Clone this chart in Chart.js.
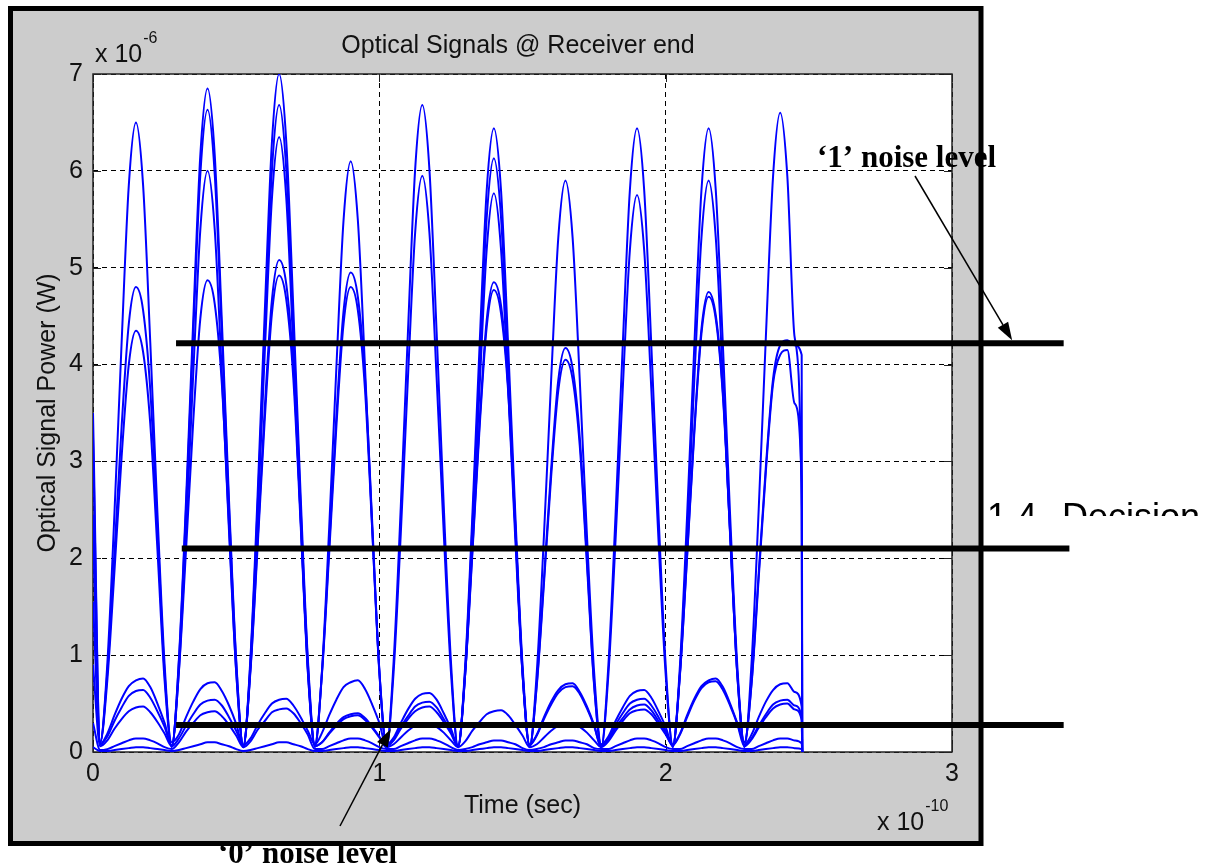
<!DOCTYPE html>
<html>
<head>
<meta charset="utf-8">
<title>Optical Signals @ Receiver end</title>
<script src="https://cdn.jsdelivr.net/npm/chart.js@4.4.1/dist/chart.umd.min.js"></script>
<style>
  html, body { margin: 0; padding: 0; background: #fff; }
  #wrap { position: relative; width: 1212px; height: 866px; }
</style>
</head>
<body>
<div id="wrap"><canvas id="rxChart" width="1212" height="866"></canvas></div>
<script>
// time in units of 1e-10 s, power in units of 1e-6 W (as on the axes)
const timeGrid = [0,
  0.025,0.05,0.075,0.1,0.125,0.15,0.175,0.2,0.225,0.25,
  0.275,0.3,0.325,0.35,0.375,0.4,0.425,0.45,0.475,0.5,
  0.525,0.55,0.575,0.6,0.625,0.65,0.675,0.7,0.725,0.75,
  0.775,0.8,0.825,0.85,0.875,0.9,0.925,0.95,0.975,1.0,
  1.025,1.05,1.075,1.1,1.125,1.15,1.175,1.2,1.225,1.25,
  1.275,1.3,1.325,1.35,1.375,1.4,1.425,1.45,1.475,1.5,
  1.525,1.55,1.575,1.6,1.625,1.65,1.675,1.7,1.725,1.75,
  1.775,1.8,1.825,1.85,1.875,1.9,1.925,1.95,1.975,2.0,
  2.025,2.05,2.075,2.1,2.125,2.15,2.175,2.2,2.225,2.25,
  2.275,2.3,2.325,2.35,2.375,2.4,2.425,2.45,2.475,
  2.477];

const rxTrace1 = [3.5,
  0.1,0.91,2.47,4.23,5.85,6.5,5.85,4.23,2.47,0.91,
  0.05,0.96,2.6,4.45,6.17,6.85,6.17,4.45,2.6,0.96,
  0.05,0.98,2.66,4.55,6.3,7.0,6.3,4.55,2.66,0.98,
  0.08,0.2,0.38,0.54,0.67,0.72,0.74,0.65,0.49,0.3,
  0.05,0.94,2.54,4.34,6.01,6.68,6.01,4.34,2.54,0.94,
  0.05,0.9,2.45,4.19,5.8,6.44,5.8,4.19,2.45,0.9,
  0.08,0.18,0.36,0.52,0.64,0.7,0.71,0.62,0.47,0.28,
  0.05,0.9,2.45,4.19,5.8,6.44,5.8,4.19,2.45,0.9,
  0.05,0.9,2.45,4.19,5.8,6.44,5.8,4.19,2.45,0.9,
  0.05,0.92,2.51,4.29,5.94,6.6,5.94,4.29,2.51,
  0];

const rxTrace2 = [2.45,
  0.1,0.82,2.06,3.36,4.42,4.8,4.56,3.74,2.3,0.82,
  0.1,0.18,0.36,0.52,0.65,0.71,0.72,0.63,0.48,0.29,
  0.06,0.94,2.54,4.34,6.01,6.68,6.01,4.34,2.54,0.94,
  0.05,0.85,2.32,3.97,5.49,6.1,5.49,3.97,2.32,0.85,
  0.08,0.15,0.3,0.44,0.55,0.6,0.61,0.54,0.4,0.24,
  0.06,0.86,2.33,3.98,5.52,6.13,5.52,3.98,2.33,0.86,
  0.05,0.83,2.24,3.84,5.31,5.9,5.31,3.84,2.24,0.83,
  0.08,0.16,0.32,0.46,0.58,0.63,0.64,0.56,0.42,0.26,
  0.06,0.83,2.24,3.84,5.31,5.9,5.31,3.84,2.24,0.83,
  0.08,0.18,0.36,0.52,0.64,0.7,0.71,0.62,0.47,
  0];

const rxTrace3 = [3.25,
  0.1,0.74,1.87,3.05,4.0,4.35,4.13,3.39,2.09,0.74,
  0.06,0.93,2.52,4.31,5.97,6.63,5.97,4.31,2.52,0.93,
  0.05,0.89,2.41,4.13,5.72,6.35,5.72,4.13,2.41,0.89,
  0.06,0.1,0.2,0.29,0.36,0.39,0.4,0.35,0.26,0.16,
  0.05,0.83,2.26,3.87,5.36,5.95,5.36,3.87,2.26,0.83,
  0.05,0.81,2.19,3.75,5.19,5.77,5.19,3.75,2.19,0.81,
  0.07,0.17,0.34,0.49,0.61,0.67,0.68,0.6,0.45,0.27,
  0.05,0.8,2.19,3.74,5.18,5.75,5.18,3.74,2.19,0.8,
  0.08,0.19,0.38,0.55,0.68,0.74,0.76,0.67,0.5,0.3,
  0.1,0.72,1.85,2.95,3.85,4.2,4.25,4.2,4.1,
  0];

const rxTrace4 = [2.35,
  0.08,0.19,0.38,0.55,0.68,0.74,0.76,0.67,0.5,0.3,
  0.06,0.84,2.28,3.9,5.4,6.0,5.4,3.9,2.28,0.84,
  0.07,0.14,0.28,0.4,0.5,0.54,0.55,0.48,0.36,0.22,
  0.08,0.84,2.13,3.47,4.55,4.95,4.7,3.86,2.38,0.84,
  0.07,0.13,0.26,0.37,0.47,0.51,0.52,0.46,0.34,0.21,
  0.07,0.82,2.09,3.4,4.46,4.85,4.61,3.78,2.33,0.82,
  0.06,0.71,1.79,2.92,3.84,4.17,3.96,3.25,2.0,0.71,
  0.07,0.14,0.28,0.4,0.5,0.54,0.55,0.48,0.36,0.22,
  0.07,0.81,2.04,3.33,4.37,4.75,4.51,3.71,2.28,0.81,
  0.1,0.7,1.8,2.9,3.8,4.1,4.15,3.6,2.78,
  0];

const rxTrace5 = [1.55,
  0.08,0.16,0.32,0.46,0.58,0.63,0.64,0.56,0.42,0.26,
  0.07,0.83,2.09,3.41,4.48,4.87,4.63,3.8,2.34,0.83,
  0.07,0.86,2.18,3.56,4.67,5.08,4.83,3.96,2.44,0.86,
  0.07,0.82,2.06,3.36,4.42,4.8,4.56,3.74,2.3,0.82,
  0.06,0.12,0.24,0.34,0.42,0.46,0.47,0.41,0.31,0.19,
  0.06,0.81,2.05,3.34,4.39,4.77,4.53,3.72,2.29,0.81,
  0.06,0.69,1.74,2.84,3.73,4.05,3.85,3.16,1.94,0.69,
  0.06,0.12,0.25,0.35,0.44,0.48,0.49,0.43,0.32,0.2,
  0.06,0.8,2.02,3.29,4.32,4.7,4.47,3.67,2.26,0.8,
  0.07,0.14,0.27,0.39,0.49,0.53,0.54,0.48,0.36,
  0];

const rxTrace6 = [0.9,
  0.06,0.12,0.24,0.34,0.42,0.46,0.47,0.41,0.31,0.19,
  0.06,0.14,0.27,0.39,0.49,0.53,0.54,0.48,0.36,0.22,
  0.07,0.84,2.12,3.44,4.53,4.92,4.67,3.84,2.36,0.84,
  0.06,0.1,0.19,0.27,0.34,0.37,0.38,0.33,0.25,0.15,
  0.05,0.08,0.15,0.22,0.27,0.29,0.3,0.26,0.2,0.12,
  0.05,0.11,0.22,0.31,0.39,0.42,0.43,0.38,0.28,0.17,
  0.05,0.08,0.15,0.22,0.27,0.29,0.3,0.26,0.2,0.12,
  0.05,0.11,0.22,0.32,0.4,0.43,0.44,0.39,0.29,0.18,
  0.07,0.18,0.36,0.53,0.66,0.72,0.73,0.64,0.48,0.29,
  0.06,0.13,0.25,0.36,0.45,0.49,0.5,0.44,0.33,
  0];

const rxTrace7 = [0.3,
  0.02,0.03,0.06,0.09,0.12,0.14,0.14,0.12,0.09,0.05,
  0.03,0.1,0.21,0.3,0.38,0.41,0.42,0.37,0.28,0.17,
  0.05,0.11,0.23,0.32,0.41,0.44,0.45,0.4,0.3,0.18,
  0.03,0.03,0.06,0.09,0.12,0.14,0.14,0.12,0.09,0.05,
  0.03,0.03,0.06,0.09,0.12,0.14,0.14,0.12,0.09,0.05,
  0.02,0.03,0.05,0.08,0.1,0.12,0.12,0.1,0.08,0.04,
  0.02,0.03,0.05,0.08,0.1,0.12,0.12,0.1,0.08,0.04,
  0.03,0.03,0.06,0.09,0.12,0.14,0.14,0.12,0.09,0.05,
  0.03,0.03,0.06,0.09,0.12,0.14,0.14,0.12,0.09,0.05,
  0.03,0.03,0.06,0.09,0.12,0.14,0.14,0.12,0.09,
  0];

const rxTrace8 = [0.05,
  0.01,0.01,0.02,0.03,0.04,0.05,0.05,0.04,0.03,0.02,
  0.01,0.02,0.04,0.06,0.08,0.1,0.1,0.08,0.06,0.03,
  0.01,0.02,0.04,0.06,0.08,0.1,0.1,0.08,0.06,0.03,
  0.01,0.01,0.02,0.03,0.04,0.05,0.05,0.04,0.03,0.02,
  0.01,0.01,0.02,0.03,0.04,0.05,0.05,0.04,0.03,0.02,
  0.01,0.01,0.02,0.03,0.04,0.05,0.05,0.04,0.03,0.02,
  0.01,0.01,0.02,0.03,0.04,0.05,0.05,0.04,0.03,0.02,
  0.01,0.01,0.02,0.03,0.04,0.05,0.05,0.04,0.03,0.02,
  0.01,0.01,0.02,0.03,0.04,0.05,0.05,0.04,0.03,0.02,
  0.01,0.01,0.02,0.03,0.04,0.05,0.05,0.04,0.03,
  0];

const rxTraces = [rxTrace1, rxTrace2, rxTrace3, rxTrace4, rxTrace5, rxTrace6, rxTrace7, rxTrace8];

// the three thick level lines drawn over the plot
const levelValues = [4.22, 2.1, 0.28];
const levelStart = [0.29, 0.31, 0.29];
const levelEnd = [3.39, 3.41, 3.39];

const xTickValues = [0, 1, 2, 3];
const yTickValues = [0, 1, 2, 3, 4, 5, 6, 7];

const axisFont = { family: "'Liberation Sans', Arial, sans-serif", size: 25, lineHeight: 1.2 };

const datasets = [];
levelValues.forEach((v, i) => {
  datasets.push({
    data: [{ x: levelStart[i], y: v }, { x: levelEnd[i], y: v }],
    borderColor: "#000",
    borderWidth: 6,
    pointRadius: 0,
    clip: false,
    borderCapStyle: "butt"
  });
});
rxTraces.forEach(tr => {
  datasets.push({
    data: tr.map((p, i) => ({ x: timeGrid[i], y: p })),
    borderColor: "#0000ff",
    borderWidth: 2,
    pointRadius: 0,
    cubicInterpolationMode: "monotone"
  });
});

function arrow(ctx, x0, y0, x1, y1) {
  const ang = Math.atan2(y1 - y0, x1 - x0);
  const len = 18, half = 6;
  const bx = x1 - len * Math.cos(ang), by = y1 - len * Math.sin(ang);
  ctx.beginPath();
  ctx.moveTo(x0, y0);
  ctx.lineTo(bx, by);
  ctx.lineWidth = 1.5;
  ctx.strokeStyle = "#000";
  ctx.stroke();
  ctx.beginPath();
  ctx.moveTo(x1, y1);
  ctx.lineTo(bx + half * Math.sin(ang), by - half * Math.cos(ang));
  ctx.lineTo(bx - half * Math.sin(ang), by + half * Math.cos(ang));
  ctx.closePath();
  ctx.fillStyle = "#000";
  ctx.fill();
}

const figureDecor = {
  id: "figureDecor",
  beforeDraw(chart) {
    const ctx = chart.ctx, a = chart.chartArea;
    ctx.save();
    ctx.fillStyle = "#fff";
    ctx.fillRect(0, 0, chart.width, chart.height);
    ctx.fillStyle = "#cccccc";
    ctx.fillRect(10, 8, 971, 836);
    ctx.lineWidth = 5;
    ctx.strokeStyle = "#000";
    ctx.strokeRect(10.5, 8.5, 970.5, 835);
    ctx.fillStyle = "#fff";
    ctx.fillRect(a.left, a.top, a.right - a.left, a.bottom - a.top);
    ctx.restore();
  },
  beforeDatasetsDraw(chart) {
    const ctx = chart.ctx, a = chart.chartArea;
    const xs = chart.scales.x, ys = chart.scales.y;
    ctx.save();
    ctx.strokeStyle = "#222";
    ctx.lineWidth = 1.5;
    ctx.strokeRect(a.left, a.top, a.right - a.left, a.bottom - a.top);
    ctx.lineWidth = 1;
    ctx.beginPath();
    xTickValues.forEach(v => {
      const px = Math.round(xs.getPixelForValue(v)) + 0.5;
      ctx.moveTo(px, a.bottom); ctx.lineTo(px, a.bottom - 8);
      ctx.moveTo(px, a.top); ctx.lineTo(px, a.top + 8);
    });
    yTickValues.forEach(v => {
      const py = Math.round(ys.getPixelForValue(v)) + 0.5;
      ctx.moveTo(a.left, py); ctx.lineTo(a.left + 8, py);
      ctx.moveTo(a.right, py); ctx.lineTo(a.right - 8, py);
    });
    ctx.stroke();
    ctx.restore();
  },
  afterDraw(chart) {
    const ctx = chart.ctx;
    const xs = chart.scales.x, ys = chart.scales.y;
    ctx.save();
    ctx.fillStyle = "#111";
    ctx.textBaseline = "alphabetic";

    // title
    ctx.font = "25px 'Liberation Sans', Arial, sans-serif";
    ctx.textAlign = "center";
    ctx.fillText("Optical Signals @ Receiver end", 518, 53);

    // exponent labels
    ctx.textAlign = "left";
    ctx.fillText("x 10", 95, 62);
    let w = ctx.measureText("x 10").width;
    ctx.font = "16px 'Liberation Sans', Arial, sans-serif";
    ctx.fillText("-6", 95 + w + 1, 43);
    ctx.font = "25px 'Liberation Sans', Arial, sans-serif";
    ctx.fillText("x 10", 877, 830);
    w = ctx.measureText("x 10").width;
    ctx.font = "16px 'Liberation Sans', Arial, sans-serif";
    ctx.fillText("-10", 877 + w + 1, 811);

    // annotations
    ctx.fillStyle = "#000";
    ctx.font = "bold 31px 'Liberation Serif', 'Times New Roman', serif";
    ctx.fillText("\u20181\u2019 noise level", 817, 167);
    ctx.fillText("\u20180\u2019 noise level", 218, 863);

    arrow(ctx, 915, 176, xs.getPixelForValue(3.21), ys.getPixelForValue(levelValues[0]) - 3);
    arrow(ctx, 340, 826, xs.getPixelForValue(1.04), ys.getPixelForValue(levelValues[2]) + 4);

    // heading text partly hidden behind the figure
    ctx.save();
    ctx.beginPath();
    ctx.rect(984, 0, 228, 516);
    ctx.clip();
    ctx.fillStyle = "#000";
    ctx.font = "36px 'Liberation Sans', Arial, sans-serif";
    ctx.fillText("1.4", 987, 529);
    ctx.fillText("Decision", 1062, 529);
    ctx.restore();

    ctx.restore();
  }
};

new Chart(document.getElementById("rxChart"), {
  type: "line",
  data: { datasets: datasets },
  options: {
    responsive: false,
    devicePixelRatio: 1,
    animation: false,
    events: [],
    layout: { padding: { left: 0, top: 74, right: 260, bottom: 0 } },
    plugins: { legend: { display: false }, tooltip: { enabled: false }, title: { display: false } },
    scales: {
      x: {
        type: "linear",
        min: 0,
        max: 3,
        afterBuildTicks: s => { s.ticks = xTickValues.map(v => ({ value: v })); },
        afterFit: s => { s.height = 114; },
        ticks: { color: "#111", font: axisFont, padding: 7, maxRotation: 0, autoSkip: false },
        grid: { color: "#000", lineWidth: 1, drawTicks: false },
        border: { display: false, dash: [5, 4] },
        title: { display: true, text: "Time (sec)", color: "#111", font: axisFont, padding: { top: 0, bottom: 45 } }
      },
      y: {
        type: "linear",
        min: 0,
        max: 7,
        afterBuildTicks: s => { s.ticks = yTickValues.map(v => ({ value: v })); },
        afterFit: s => { s.width = 93; },
        ticks: { color: "#111", font: axisFont, padding: 10, autoSkip: false },
        grid: { color: "#000", lineWidth: 1, drawTicks: false },
        border: { display: false, dash: [5, 4] },
        title: { display: true, text: "Optical Signal Power (W)", color: "#111", font: axisFont, padding: { top: 33, bottom: 0 } }
      }
    }
  },
  plugins: [figureDecor]
});
</script>
</body>
</html>
